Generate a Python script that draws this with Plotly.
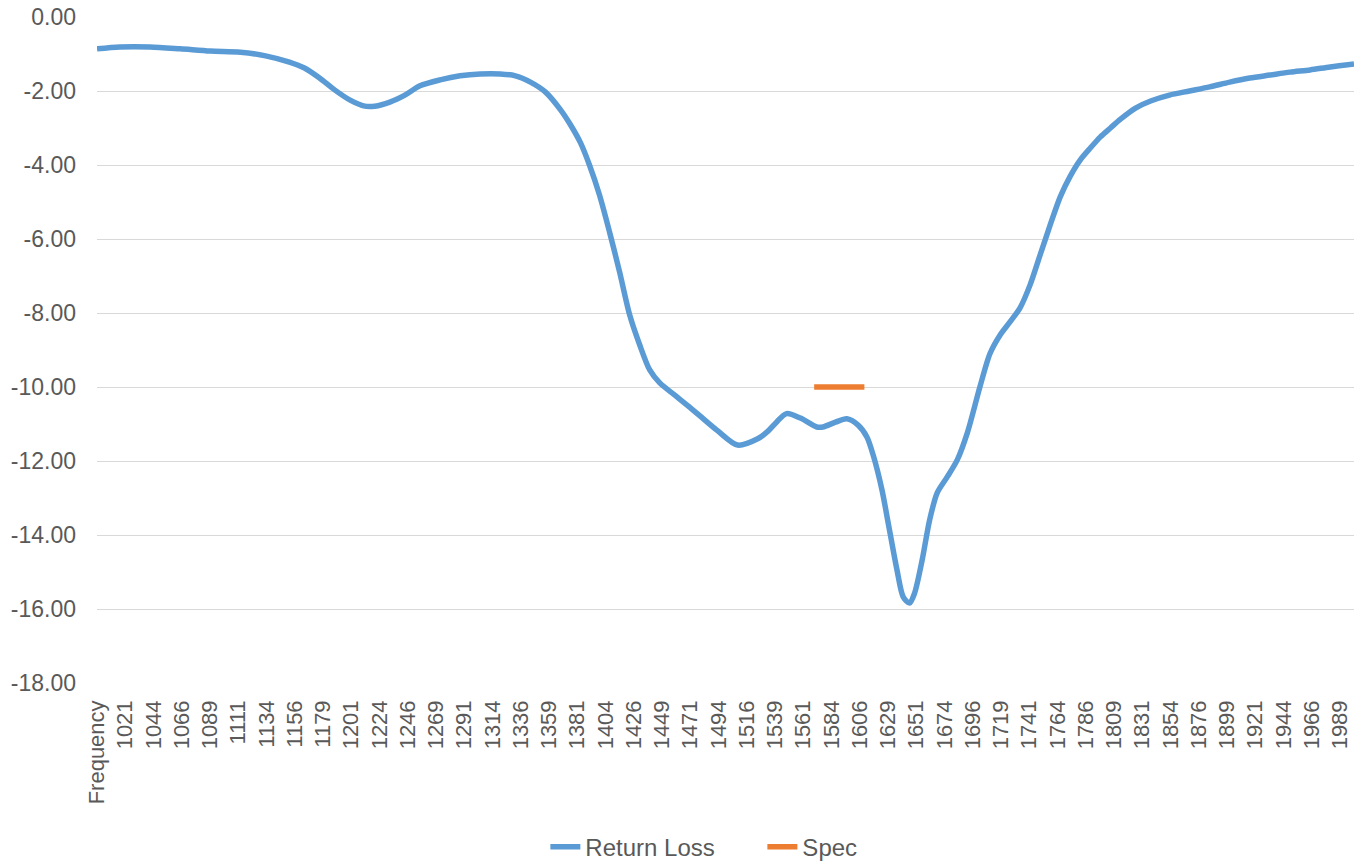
import plotly.graph_objects as go

# Return Loss readings (MHz, dB)
freq = [998.75, 1017, 1041, 1065, 1089, 1113, 1133, 1152, 1164, 1176, 1188, 1200, 1212, 1220,
        1232, 1244, 1256, 1272, 1288, 1304, 1320, 1332, 1344, 1356, 1368, 1376, 1384, 1391,
        1399, 1407, 1415, 1423, 1431, 1439, 1447, 1459, 1471, 1479, 1493, 1509, 1525, 1533,
        1540, 1548, 1559, 1572, 1577, 1587, 1596, 1605, 1612, 1617, 1624, 1629, 1636, 1641,
        1646, 1650, 1656, 1662, 1668, 1676, 1684, 1692, 1702, 1710, 1718, 1726, 1734, 1742,
        1750, 1758, 1766, 1774, 1782, 1790, 1798, 1806, 1814, 1826, 1838, 1853, 1869, 1885,
        1901, 1917, 1933, 1949, 1965, 1981, 2000]
return_loss = [-0.86, -0.81, -0.81, -0.86, -0.92, -0.95, -1.05, -1.22, -1.38, -1.65, -1.97,
               -2.24, -2.41, -2.41, -2.30, -2.11, -1.86, -1.70, -1.59, -1.54, -1.54, -1.59,
               -1.76, -2.03, -2.51, -2.92, -3.41, -4.00, -4.81, -5.81, -6.89, -8.05, -8.86,
               -9.54, -9.89, -10.22, -10.55, -10.78, -11.18, -11.57, -11.40, -11.20, -10.95,
               -10.72, -10.84, -11.08, -11.08, -10.95, -10.86, -11.03, -11.35, -11.84, -12.78,
               -13.68, -14.95, -15.68, -15.84, -15.57, -14.68, -13.59, -12.86, -12.43, -11.97,
               -11.24, -10.00, -9.10, -8.60, -8.24, -7.86, -7.24, -6.43, -5.62, -4.86, -4.30,
               -3.86, -3.54, -3.24, -3.00, -2.76, -2.46, -2.27, -2.11, -2.00, -1.89, -1.76,
               -1.65, -1.57, -1.49, -1.43, -1.35, -1.27]

# Spec line
spec_freq = [1570, 1610]
spec_values = [-10, -10]

# Category tick labels
tick_labels = ["Frequency", "1021", "1044", "1066", "1089", "1111", "1134", "1156", "1179",
               "1201", "1224", "1246", "1269", "1291", "1314", "1336", "1359", "1381", "1404",
               "1426", "1449", "1471", "1494", "1516", "1539", "1561", "1584", "1606", "1629",
               "1651", "1674", "1696", "1719", "1741", "1764", "1786", "1809", "1831", "1854",
               "1876", "1899", "1921", "1944", "1966", "1989"]
tick_step = 22.5
tick_start = 998.75
tick_vals = [tick_start + tick_step * i for i in range(len(tick_labels))]

y_ticks = [0, -2, -4, -6, -8, -10, -12, -14, -16, -18]
y_tick_text = [f"{v:.2f}" for v in y_ticks]

font_family = "Liberation Sans, Arial, sans-serif"
grey = "#595959"

fig = go.Figure()
fig.add_trace(go.Scatter(
    x=freq, y=return_loss, mode="lines", name="Return Loss",
    line=dict(color="#5B9BD5", width=5.5, shape="spline", smoothing=0.8),
))
fig.add_trace(go.Scatter(
    x=spec_freq, y=spec_values, mode="lines", name="Spec",
    line=dict(color="#ED7D31", width=5.5),
))

fig.update_layout(
    width=1358, height=863,
    margin=dict(l=97, r=4, t=17, b=180, autoexpand=False),
    paper_bgcolor="white", plot_bgcolor="white",
    font=dict(family=font_family, size=22, color=grey),
    showlegend=True,
    legend=dict(orientation="h", xref="container", x=0.4016, xanchor="left",
                yref="container", y=0.0185, yanchor="middle",
                font=dict(size=24, color=grey), tracegroupgap=0,
                entrywidth=172, entrywidthmode="pixels"),
)
fig.update_xaxes(
    range=[998.75, 2000], tickmode="array", tickvals=tick_vals, ticktext=tick_labels,
    tickangle=-90, showgrid=False, zeroline=False, showline=False, automargin=False,
    tickfont=dict(size=22, color=grey), ticklabelstandoff=12,
)
fig.update_yaxes(
    range=[-18, 0], tickmode="array", tickvals=y_ticks, ticktext=y_tick_text,
    showgrid=True, gridcolor="#D9D9D9", gridwidth=1.3, zeroline=False, showline=False,
    automargin=False, tickfont=dict(size=23, color=grey), ticklabelstandoff=20,
)

fig.write_html(
    "out.html",
    config={"displayModeBar": False},
    post_script="document.body.style.margin='0';document.body.style.overflow='hidden';",
)
